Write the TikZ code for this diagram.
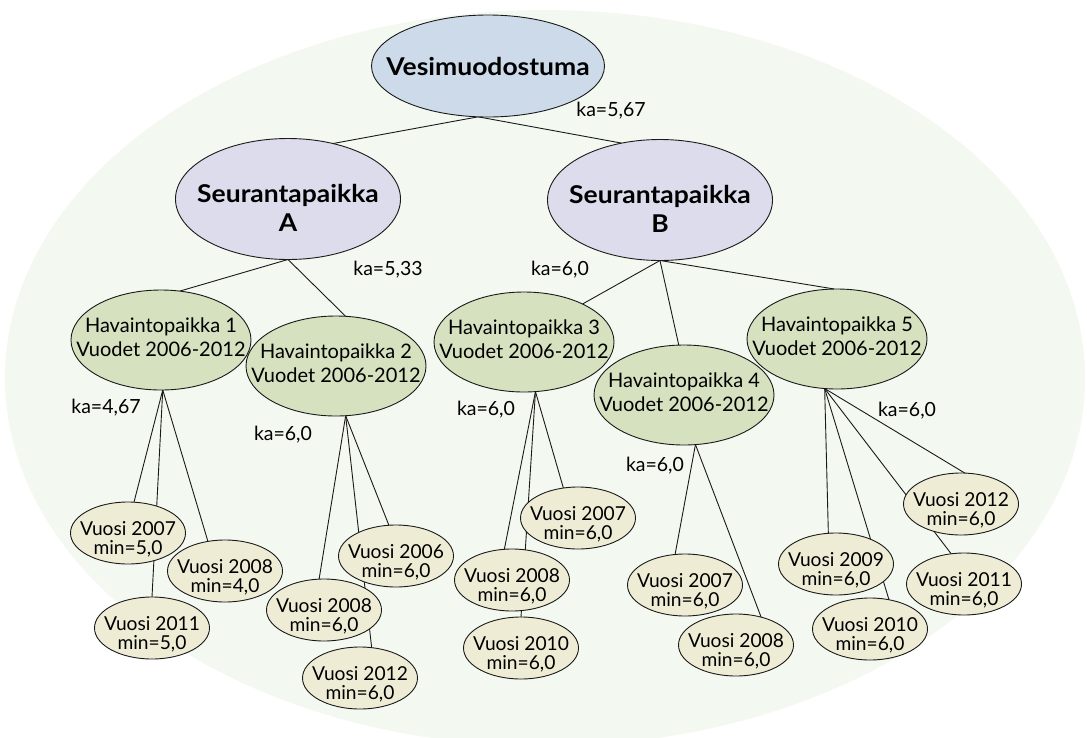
\documentclass[tikz,border=0pt]{standalone}
\usepackage{fontspec}
\setmainfont{Lato}
\newfontfamily\widefam[FakeStretch=1.08]{Lato}
\usetikzlibrary{shapes.geometric}
\pgfdeclarelayer{bgl}
\pgfdeclarelayer{edgel}
\pgfsetlayers{bgl,edgel,main}
\definecolor{bgfill}{HTML}{F3F8F0}
\definecolor{topfill}{HTML}{CCDAEA}
\definecolor{seufill}{HTML}{DCDCEC}
\definecolor{havfill}{HTML}{D6E1C0}
\definecolor{vuofill}{HTML}{EFECD6}
\definecolor{linec}{HTML}{1A1A1A}
\tikzset{
  ell/.style={ellipse, draw=linec, line width=0.9pt, inner sep=0pt, outer sep=0pt},
  topnode/.style={ell, fill=topfill, minimum width=233pt, minimum height=102pt},
  seunode/.style={ell, fill=seufill, minimum width=225pt, minimum height=121pt},
  havnode/.style={ell, fill=havfill, minimum width=180pt, minimum height=100pt},
  vuonode/.style={ell, fill=vuofill, minimum width=115pt, minimum height=62pt},
  btext/.style={font=\widefam\fontsize{24.5}{29}\selectfont\bfseries, align=center, inner sep=0pt},
  htext/.style={font=\fontsize{20}{24}\selectfont, align=center, inner sep=0pt, yshift=3pt},
  vtext/.style={font=\fontsize{19.2}{19}\selectfont, align=center, inner sep=0pt, yshift=-6pt},
  katext/.style={font=\fontsize{19.5}{22}\selectfont, inner sep=0pt},
  conn/.style={draw=linec, line width=0.9pt},
}
\begin{document}
\begin{tikzpicture}[x=1pt,y=-1pt]
\useasboundingbox (0,0) rectangle (1087,737);
\begin{pgfonlayer}{bgl}
\fill[white] (0,0) rectangle (1087,737);
\fill[bgfill] (545,378) ellipse [x radius=540pt, y radius=368pt];
\end{pgfonlayer}

\node[topnode, label={[btext]center:Vesimuodostuma}] (V) at (488,66) {};
\node[seunode, label={[btext, yshift=-9pt]center:{Seurantapaikka\\A}}] (A) at (288,199) {};
\node[seunode, label={[btext, yshift=-9pt]center:{Seurantapaikka\\B}}] (B) at (660,200) {};

\node[havnode, label={[htext]center:{Havaintopaikka 1\\Vuodet 2006-2012}}] (H1) at (161,340) {};
\node[havnode, label={[htext]center:{Havaintopaikka 2\\Vuodet 2006-2012}}] (H2) at (336,366) {};
\node[havnode, label={[htext]center:{Havaintopaikka 3\\Vuodet 2006-2012}}] (H3) at (524,342) {};
\node[havnode, label={[htext]center:{Havaintopaikka 4\\Vuodet 2006-2012}}] (H4) at (684,395) {};
\node[havnode, label={[htext]center:{Havaintopaikka 5\\Vuodet 2006-2012}}] (H5) at (837,339) {};

\node[vuonode, label={[vtext]center:{Vuosi 2007\\min=5,0}}] (v07a) at (128,533) {};
\node[vuonode, label={[vtext]center:{Vuosi 2008\\min=4,0}}] (v08a) at (225,571) {};
\node[vuonode, label={[vtext]center:{Vuosi 2011\\min=5,0}}] (v11a) at (152,628) {};

\node[vuonode, label={[vtext]center:{Vuosi 2006\\min=6,0}}] (v06b) at (396,556) {};
\node[vuonode, label={[vtext]center:{Vuosi 2008\\min=6,0}}] (v08b) at (324,610) {};
\node[vuonode, label={[vtext]center:{Vuosi 2012\\min=6,0}}] (v12b) at (360,678) {};

\node[vuonode, label={[vtext]center:{Vuosi 2007\\min=6,0}}] (v07c) at (578,518) {};
\node[vuonode, label={[vtext]center:{Vuosi 2008\\min=6,0}}] (v08c) at (512,580) {};
\node[vuonode, label={[vtext]center:{Vuosi 2010\\min=6,0}}] (v10c) at (521,648) {};

\node[vuonode, label={[vtext]center:{Vuosi 2007\\min=6,0}}] (v07d) at (685,585) {};
\node[vuonode, label={[vtext]center:{Vuosi 2008\\min=6,0}}] (v08d) at (736,645) {};

\node[vuonode, label={[vtext]center:{Vuosi 2012\\min=6,0}}] (v12e) at (961,504) {};
\node[vuonode, label={[vtext]center:{Vuosi 2009\\min=6,0}}] (v09e) at (836,564) {};
\node[vuonode, label={[vtext]center:{Vuosi 2011\\min=6,0}}] (v11e) at (964,584) {};
\node[vuonode, label={[vtext]center:{Vuosi 2010\\min=6,0}}] (v10e) at (870,629) {};

\node[katext] (kaV) at (611,111) {ka=5,67};
\node[katext] (kaA) at (388,270) {ka=5,33};
\node[katext] (kaB) at (560,270) {ka=6,0};
\node[katext] (ka1) at (106,408) {ka=4,67};
\node[katext] (ka2) at (283,435) {ka=6,0};
\node[katext] (ka3) at (486,410) {ka=6,0};
\node[katext] (ka4) at (655,466) {ka=6,0};
\node[katext] (ka5) at (907,411) {ka=6,0};

\begin{pgfonlayer}{edgel}
\draw[conn] (V.-101) -- (A.51);
\draw[conn] (V.-101) -- (B.124);
\draw[conn] (A.south) -- (H1.69);
\draw[conn] (A.south) -- (H2.79);
\draw[conn] (B.south) -- (H3.33);
\draw[conn] (B.south) -- (H4.96);
\draw[conn] (B.south) -- (H5.93);
\draw[conn] (H1.-88) -- (v07a.79);
\draw[conn] (H1.-88) -- (v11a.north);
\draw[conn] (H1.-88) -- (v08a.120);
\draw[conn] (H2.-79) -- (v08b.99);
\draw[conn] (H2.-79) -- (v12b.69);
\draw[conn] (H2.-79) -- (v06b.103);
\draw[conn] (H3.-77) -- (v07c.116);
\draw[conn] (H3.-77) -- (v08c.104);
\draw[conn] (H3.-77) -- (v10c.north);
\draw[conn] (H4.-77) -- (v07d.108);
\draw[conn] (H4.-77) -- (v08d.48);
\draw[conn] (H5.-104) -- (v09e.104);
\draw[conn] (H5.-104) -- (v10e.57);
\draw[conn] (H5.-104) -- (v11e.113);
\draw[conn] (H5.-104) -- (v12e.83);
\end{pgfonlayer}
\end{tikzpicture}
\end{document}
